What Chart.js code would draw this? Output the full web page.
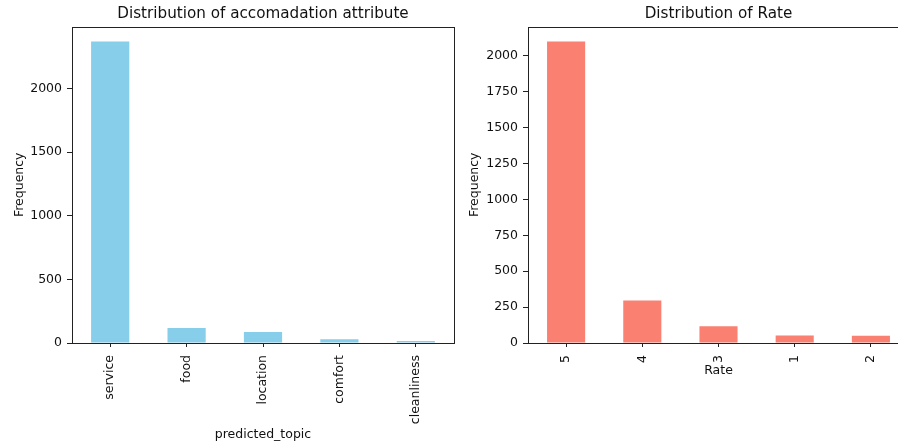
<!DOCTYPE html>
<html>
<head>
<meta charset="utf-8">
<script src="https://cdn.jsdelivr.net/npm/chart.js@4/dist/chart.umd.min.js"></script>
<style>
  html, body { margin: 0; padding: 0; background: #fff; overflow: hidden; width: 898px; height: 446px; }
  .box { position: absolute; top: 0; height: 446px; width: 460px; }
</style>
</head>
<body>
<div class="box" style="left:0"><canvas id="topicChart" width="460" height="446"></canvas></div>
<div class="box" style="left:460px"><canvas id="rateChart" width="460" height="446"></canvas></div>
<script>
// Phân bố chủ đề
var topicLabels = ['service', 'food', 'location', 'comfort', 'cleanliness'];
var topicCounts = [2370, 118, 87, 29, 16];
var topicTicks = [0, 500, 1000, 1500, 2000];

// Phân bố điểm đánh giá
var rateLabels = ['5', '4', '3', '1', '2'];
var rateCounts = [2098, 296, 116, 52, 51];
var rateTicks = [0, 250, 500, 750, 1000, 1250, 1500, 1750, 2000];

var fontFamily = 'DejaVu Sans';
var ink = '#111';
var tickSize = 12.5;

// khung 4 cạnh như matplotlib
var frame = {
    id: 'frame',
    afterDraw: function(chart) {
        var a = chart.chartArea, c = chart.ctx;
        c.save();
        c.strokeStyle = '#222';
        c.lineWidth = 1;
        c.strokeRect(Math.round(a.left) + 0.5, Math.round(a.top) + 0.5,
            Math.round(a.right - a.left), Math.round(a.bottom - a.top));
        c.restore();
    }
};

function makeChart(id, labels, values, ticks, color, title, xTitle, opt) {
    var ctx = document.getElementById(id).getContext('2d');
    return new Chart(ctx, {
        type: 'bar',
        data: {
            labels: labels,
            datasets: [{
                data: values,
                backgroundColor: color,
                borderWidth: 0,
                barPercentage: 0.5,
                categoryPercentage: 1.0
            }]
        },
        options: {
            responsive: false,
            animation: false,
            layout: { padding: { left: 0, right: opt.padRight, top: 0, bottom: 0 } },
            plugins: {
                legend: { display: false },
                tooltip: { enabled: false },
                title: {
                    display: true,
                    text: title,
                    fullSize: false,
                    color: ink,
                    font: { family: fontFamily, size: 15.2, weight: 'normal' },
                    padding: { top: 5.4, bottom: 2.9 }
                }
            },
            scales: {
                x: {
                    offset: true,
                    grid: { display: true, drawOnChartArea: false, offset: false, tickLength: 4, color: '#222' },
                    border: { display: false },
                    ticks: {
                        color: ink, font: { family: fontFamily, size: tickSize },
                        minRotation: 90, maxRotation: 90, padding: 8, autoSkip: false
                    },
                    title: {
                        display: true, text: xTitle, color: ink,
                        font: { family: fontFamily, size: tickSize },
                        padding: { top: 0, bottom: opt.xTitleBottom }
                    },
                    afterFit: function(s) { s.height = 103; }
                },
                y: {
                    min: 0,
                    max: Math.max.apply(null, values) * 1.05,
                    grid: { display: true, drawOnChartArea: false, tickLength: 5, color: '#222' },
                    border: { display: false },
                    ticks: {
                        color: ink, font: { family: fontFamily, size: tickSize }, padding: 5,
                        callback: function(v) { return String(v); }
                    },
                    afterBuildTicks: function(s) {
                        s.ticks = ticks.map(function(v) { return { value: v }; });
                    },
                    title: {
                        display: true, text: 'Frequency', color: ink,
                        font: { family: fontFamily, size: tickSize },
                        padding: { top: opt.yTitleTop, bottom: 0 }
                    },
                    afterFit: function(s) { s.width = opt.yWidth; }
                }
            }
        },
        plugins: [frame]
    });
}

makeChart('topicChart', topicLabels, topicCounts, topicTicks, '#87CEEB',
    'Distribution of accomadation attribute', 'predicted_topic',
    { padRight: 6, yWidth: 72, yTitleTop: 12, xTitleBottom: 3.5 });

makeChart('rateChart', rateLabels, rateCounts, rateTicks, '#FA8072',
    'Distribution of Rate', 'Rate',
    { padRight: 11, yWidth: 68, yTitleTop: 7.5, xTitleBottom: 67.5 });
</script>
</body>
</html>
